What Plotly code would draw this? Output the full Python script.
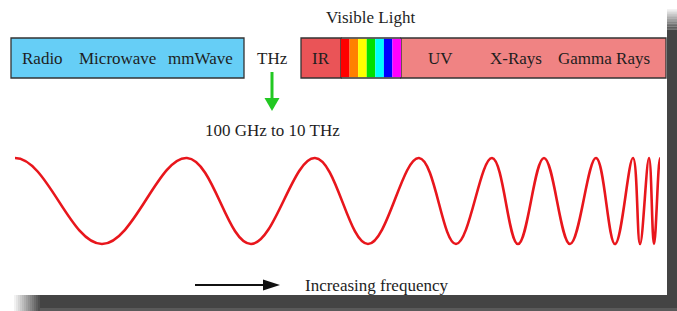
import plotly.graph_objects as go

W, H = 677, 311

# ---- data ----
low_bands = ["Radio", "Microwave", "mmWave"]
low_band_x = [42, 117, 200]
high_bands = ["UV", "X-Rays", "Gamma Rays"]
high_band_x = [440, 516, 604]
low_box = [11, 244]
ir_box = [301, 341]
visible_edges = [341, 349.6, 358.1, 366.7, 375.3, 383.9, 392.4, 401]
visible_colors = ["#FF0000", "#FF8000", "#FFFF00", "#00E000", "#00FFFF", "#0000FF", "#FF00FF"]
high_box = [401, 666]
thz_x = 272

# chirp wave extrema (x position, amplitude);
# the first and last entries continue the wave just outside the visible window
wave_x = [-72, 15, 102, 187, 251, 315, 368, 419, 456, 492, 518, 544, 570, 596, 615, 633, 640, 649, 654, 660, 665]
wave_amp = [-1, 1, -1, 1, -1, 1, -1, 1, -1, 1, -1, 1, -1, 1, -1, 1, -1, 1, -1, 1, -1]
wave_window = [15, 660]

FONT = "Liberation Serif"
TXT = "#1E1E1E"
FS = 17

fig = go.Figure()

fig.add_trace(go.Scatter(x=wave_x, y=wave_amp, mode="lines", xaxis="x2", yaxis="y2",
                         line=dict(color="#E8161C", width=2.6, shape="spline", smoothing=1.1),
                         hoverinfo="skip", showlegend=False))

shapes = []
# shadow
SH = "#444444"
shapes.append(dict(type="rect", x0=40, x1=W, y0=295, y1=H, fillcolor=SH, line_width=0, layer="below"))
shapes.append(dict(type="rect", x0=667, x1=W, y0=30, y1=295, fillcolor=SH, line_width=0, layer="below"))
n = 13
for i in range(n):
    a = (i + 1) / (n + 1)
    x0 = 14 + i * 2
    shapes.append(dict(type="rect", x0=x0, x1=x0 + 2, y0=295, y1=H, fillcolor=SH, opacity=a, line_width=0, layer="below"))
    y0 = 9 + i * 1.6
    shapes.append(dict(type="rect", x0=667, x1=W, y0=y0, y1=y0 + 1.6, fillcolor=SH, opacity=a, line_width=0, layer="below"))
shapes.append(dict(type="rect", x0=40, x1=W, y0=308, y1=H, fillcolor="#5A5A5A", line_width=0, layer="below"))

BOX_T, BOX_B = 38, 78
BORDER = dict(color="#333333", width=1.3)
shapes.append(dict(type="rect", x0=low_box[0], x1=low_box[1], y0=BOX_T, y1=BOX_B, fillcolor="#66CEF6", line=BORDER))
shapes.append(dict(type="rect", x0=high_box[0], x1=high_box[1], y0=BOX_T, y1=BOX_B, fillcolor="#F08383", line=BORDER))
shapes.append(dict(type="rect", x0=ir_box[0], x1=ir_box[1], y0=BOX_T, y1=BOX_B, fillcolor="#EA5457", line=BORDER))
for i, c in enumerate(visible_colors):
    shapes.append(dict(type="rect", x0=visible_edges[i], x1=visible_edges[i + 1], y0=BOX_T + 0.7, y1=BOX_B - 0.7,
                       fillcolor=c, line_width=0))
shapes.append(dict(type="line", x0=visible_edges[0], x1=visible_edges[-1], y0=BOX_T, y1=BOX_T, line=BORDER))
shapes.append(dict(type="line", x0=visible_edges[0], x1=visible_edges[-1], y0=BOX_B, y1=BOX_B, line=BORDER))

# green arrow
G = "#22C822"
shapes.append(dict(type="line", x0=thz_x, x1=thz_x, y0=72, y1=99, line=dict(color=G, width=3)))
shapes.append(dict(type="path", path=f"M {thz_x-7.5},98 L {thz_x+7.5},98 L {thz_x},111 Z", fillcolor=G, line_width=0))
# black arrow
shapes.append(dict(type="line", x0=195, x1=264, y0=285, y1=285, line=dict(color="#111111", width=2)))
shapes.append(dict(type="path", path="M 263,279.5 L 280,285 L 263,290.5 Z", fillcolor="#111111", line_width=0))

ann = []
def t(x, y, s, size=FS):
    ann.append(dict(x=x, y=y, text=s, showarrow=False, xref="x", yref="y",
                    font=dict(family=FONT, size=size, color=TXT), xanchor="center", yanchor="middle"))

for s, x in zip(low_bands, low_band_x):
    t(x, 58, s)
for s, x in zip(high_bands, high_band_x):
    t(x, 58, s)
t(321, 58, "IR")
t(thz_x, 58, "THz")
t(370, 17, "Visible Light")
t(thz_x, 130, "100 GHz to 10 THz")
t(377, 285, "Increasing frequency")

# y2 range so that +1 -> pixel 158, -1 -> pixel 244
p_top, p_bot = 158, 244
f_top, f_bot = 1 - p_top / H, 1 - p_bot / H
span = 2 / (f_top - f_bot)
lo = -1 - f_bot * span
hi = lo + span

fig.update_layout(
    width=W, height=H, margin=dict(l=0, r=0, t=0, b=0),
    paper_bgcolor="white", plot_bgcolor="rgba(0,0,0,0)",
    xaxis=dict(range=[0, W], visible=False, fixedrange=True),
    yaxis=dict(range=[H, 0], visible=False, fixedrange=True),
    xaxis2=dict(range=wave_window, domain=[wave_window[0] / W, wave_window[1] / W],
                visible=False, fixedrange=True, anchor="y2"),
    yaxis2=dict(range=[lo, hi], domain=[0, 1], visible=False, fixedrange=True, anchor="x2"),
    shapes=shapes, annotations=ann, showlegend=False,
)
fig.write_html("out.html", config={"displayModeBar": False},
               post_script="document.body.style.margin='0';document.body.style.overflow='hidden';")
